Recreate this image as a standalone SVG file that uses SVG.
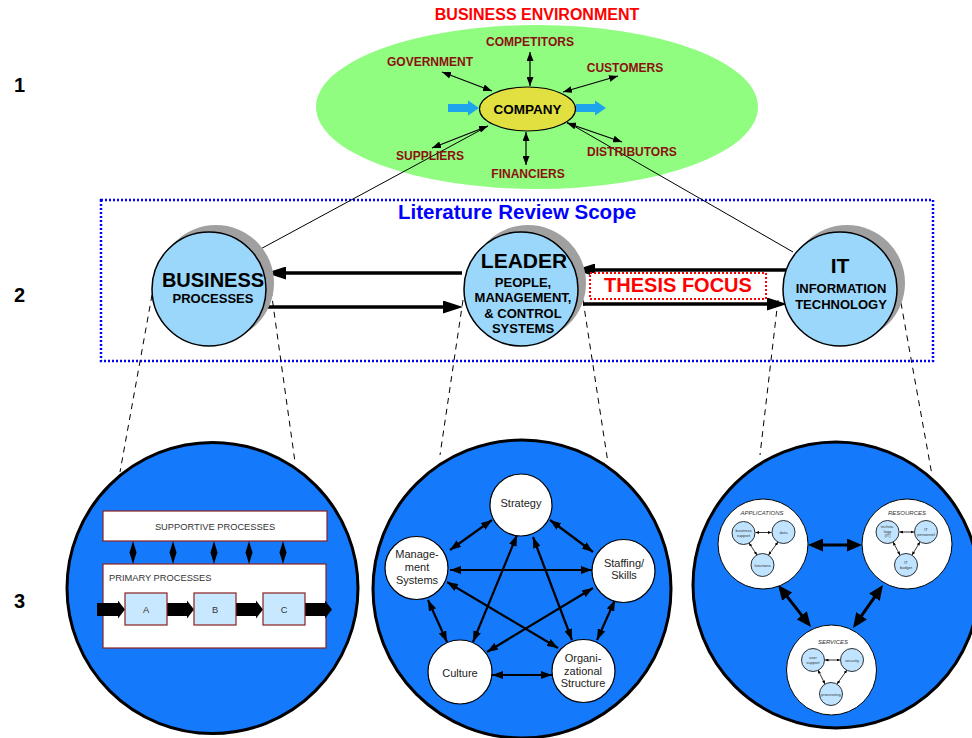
<svg xmlns="http://www.w3.org/2000/svg" width="972" height="738" viewBox="0 0 972 738">
<style>
text{font-family:"Liberation Sans",Arial,Helvetica,sans-serif}
.num{font-size:20px;font-weight:bold;fill:#000}
.env{font-size:12px;font-weight:bold;fill:#8B1010;text-anchor:middle}
.thin{stroke:#000;stroke-width:1.2;fill:none;marker-start:url(#sm);marker-end:url(#sm)}
.thick{stroke:#000;stroke-width:3.5;fill:none;marker-end:url(#bh)}
.penta{stroke:#000;stroke-width:2.2;fill:none;marker-start:url(#pm);marker-end:url(#pm)}
.it{stroke:#000;stroke-width:3;fill:none;marker-start:url(#mh);marker-end:url(#mh)}
.tiny{stroke:#000;stroke-width:0.8;fill:none;marker-start:url(#tm);marker-end:url(#tm)}
.dash{stroke:#000;stroke-width:1;stroke-dasharray:6 5;fill:none}
.c2{fill:#9BD7FB;stroke:#000;stroke-width:1.5}
.sh{fill:#A0A0A0}
.big{fill:#1479FA;stroke:#000;stroke-width:3}
.pn{fill:#fff;stroke:#000;stroke-width:1.2}
.pt{font-size:11px;fill:#222;text-anchor:middle}
.bx{fill:#fff;stroke:#8B2020;stroke-width:1.2}
.abc{fill:#C8E8FF;stroke:#8B2020;stroke-width:1.2}
.bt{font-size:9.3px;fill:#333}
.blk{fill:#000}
.sub{fill:#fff;stroke:#000;stroke-width:1}
.sc{fill:#C0E4FF;stroke:#000;stroke-width:0.8}
.sl{font-size:6px;font-style:italic;fill:#333;text-anchor:middle}
.st{font-size:4px;fill:#333;text-anchor:middle}
</style>
<defs>
<marker id="sm" markerUnits="userSpaceOnUse" markerWidth="9" markerHeight="7" refX="9" refY="3.5" orient="auto-start-reverse"><path d="M0,0 L9,3.5 L0,7 z" fill="#000"/></marker>
<marker id="bh" markerUnits="userSpaceOnUse" markerWidth="20" markerHeight="13" refX="14" refY="6.5" orient="auto"><path d="M0,0 L20,6.5 L0,13 z" fill="#000"/></marker>
<marker id="pm" markerUnits="userSpaceOnUse" markerWidth="11" markerHeight="8" refX="11" refY="4" orient="auto-start-reverse"><path d="M0,0 L11,4 L0,8 z" fill="#000"/></marker>
<marker id="mh" markerUnits="userSpaceOnUse" markerWidth="15" markerHeight="13" refX="11" refY="6.5" orient="auto-start-reverse"><path d="M0,0 L15,6.5 L0,13 z" fill="#000"/></marker>
<marker id="tm" markerUnits="userSpaceOnUse" markerWidth="3.5" markerHeight="3" refX="3.5" refY="1.5" orient="auto-start-reverse"><path d="M0,0 L3.5,1.5 L0,3 z" fill="#000"/></marker>
</defs>

<g id="row-labels">
<text class="num" x="14" y="92">1</text>
<text class="num" x="14" y="302">2</text>
<text class="num" x="14" y="608">3</text>
</g>

<g id="business-environment">
<ellipse cx="537" cy="107" rx="221" ry="82" fill="#90FC80"/>
<text x="537" y="19.5" font-size="16" font-weight="bold" fill="#FF0000" text-anchor="middle">BUSINESS ENVIRONMENT</text>
</g>

<g id="scope">
<rect x="101" y="200" width="832" height="161" fill="none" stroke="#0000FF" stroke-width="2.5" stroke-dasharray="2 2"/>
<text x="517" y="219" font-size="20.5" font-weight="bold" fill="#0000FF" text-anchor="middle">Literature Review Scope</text>
</g>

<g id="connectors">
<line class="thin" x1="530" y1="52" x2="530" y2="86"/>
<line class="thin" x1="526" y1="165" x2="526" y2="132"/>
<line class="thin" x1="442" y1="72" x2="492" y2="91"/>
<line class="thin" x1="618" y1="76" x2="563" y2="92"/>
<line class="thin" x1="432" y1="148" x2="488" y2="126"/>
<line class="thin" x1="567" y1="123" x2="622" y2="142"/>
<polygon points="448,104 468,104 468,100.5 479,108 468,115.5 468,112 448,112" fill="#1EA4EA"/>
<polygon points="576,104 595,104 595,100.5 606,108 595,115.5 595,112 576,112" fill="#1EA4EA"/>
<line x1="488" y1="126" x2="255" y2="252" stroke="#000" stroke-width="1"/>
<line x1="567" y1="122" x2="793" y2="252" stroke="#000" stroke-width="1"/>
<line class="thick" x1="462" y1="273" x2="272" y2="273"/>
<line class="thick" x1="263" y1="307" x2="457" y2="307"/>
<line class="thick" x1="787" y1="270" x2="581" y2="270"/>
<line class="thick" x1="583" y1="304" x2="781" y2="304"/>
<line class="dash" x1="152" y1="295" x2="120" y2="472"/>
<line class="dash" x1="271" y1="290" x2="295" y2="462"/>
<line class="dash" x1="463" y1="300" x2="440" y2="455"/>
<line class="dash" x1="583" y1="300" x2="608" y2="463"/>
<line class="dash" x1="778" y1="300" x2="760" y2="455"/>
<line class="dash" x1="899" y1="292" x2="932" y2="475"/>
</g>

<g id="company">
<ellipse cx="527.5" cy="109" rx="48" ry="22" fill="#E2E040" stroke="#000" stroke-width="1.2"/>
<text x="527.5" y="114" font-size="13.5" font-weight="bold" fill="#000" text-anchor="middle">COMPANY</text>
</g>
<g id="competitors"><text class="env" x="530" y="46">COMPETITORS</text></g>
<g id="government"><text class="env" x="430" y="66">GOVERNMENT</text></g>
<g id="customers"><text class="env" x="625" y="72">CUSTOMERS</text></g>
<g id="suppliers"><text class="env" x="430" y="160">SUPPLIERS</text></g>
<g id="financiers"><text class="env" x="528" y="178">FINANCIERS</text></g>
<g id="distributors"><text class="env" x="632" y="156">DISTRIBUTORS</text></g>

<g id="business-processes">
<circle class="sh" cx="216" cy="283" r="58"/>
<circle class="c2" cx="209" cy="289" r="57"/>
<text x="213" y="287" font-size="20" font-weight="bold" text-anchor="middle">BUSINESS</text>
<text x="213" y="303" font-size="13" font-weight="bold" text-anchor="middle">PROCESSES</text>
</g>

<g id="leader">
<circle class="sh" cx="528" cy="283" r="58"/>
<circle class="c2" cx="521" cy="289" r="57"/>
<text x="524" y="268" font-size="21" font-weight="bold" text-anchor="middle">LEADER</text>
<text x="523" y="287" font-size="13" font-weight="bold" text-anchor="middle">PEOPLE,</text>
<text x="523" y="302" font-size="13" font-weight="bold" text-anchor="middle">MANAGEMENT,</text>
<text x="523" y="318" font-size="13" font-weight="bold" text-anchor="middle">&amp; CONTROL</text>
<text x="523" y="333" font-size="13" font-weight="bold" text-anchor="middle">SYSTEMS</text>
</g>

<g id="thesis-focus">
<rect x="590" y="273" width="176" height="26" fill="#fff" stroke="#FF0000" stroke-width="2" stroke-dasharray="2 2"/>
<text x="678" y="292" font-size="20" font-weight="bold" fill="#FF0000" text-anchor="middle">THESIS FOCUS</text>
</g>

<g id="information-technology">
<circle class="sh" cx="847" cy="283" r="58"/>
<circle class="c2" cx="840" cy="289" r="57"/>
<text x="840" y="273" font-size="21" font-weight="bold" text-anchor="middle">IT</text>
<text x="841" y="293" font-size="13" font-weight="bold" text-anchor="middle">INFORMATION</text>
<text x="841" y="309" font-size="13" font-weight="bold" text-anchor="middle">TECHNOLOGY</text>
</g>

<g id="process-detail">
<circle class="big" cx="212.5" cy="588" r="145.5"/>
<rect class="bx" x="103" y="511" width="224" height="30"/>
<text class="bt" x="215" y="530" text-anchor="middle">SUPPORTIVE PROCESSES</text>
<rect class="bx" x="103" y="564" width="223" height="84"/>
<text class="bt" x="109" y="581">PRIMARY PROCESSES</text>
<g class="blk">
<polygon points="133,541 136.5,552.5 133,564 129.5,552.5"/>
<polygon points="173,541 176.5,552.5 173,564 169.5,552.5"/>
<polygon points="214,541 217.5,552.5 214,564 210.5,552.5"/>
<polygon points="249,541 252.5,552.5 249,564 245.5,552.5"/>
<polygon points="283,541 286.5,552.5 283,564 279.5,552.5"/>
<polygon points="97,603 118,603 118,600.5 125,609.5 118,618.5 118,616 97,616"/>
<polygon points="167,603 187,603 187,600.5 194,609.5 187,618.5 187,616 167,616"/>
<polygon points="236,603 256,603 256,600.5 263,609.5 256,618.5 256,616 236,616"/>
<polygon points="305,603 325,603 325,600.5 332,609.5 325,618.5 325,616 305,616"/>
</g>
<rect class="abc" x="125" y="593" width="42" height="32"/>
<rect class="abc" x="194" y="593" width="42" height="32"/>
<rect class="abc" x="263" y="593" width="42" height="32"/>
<text class="bt" x="146" y="613" text-anchor="middle">A</text>
<text class="bt" x="215" y="613" text-anchor="middle">B</text>
<text class="bt" x="284" y="613" text-anchor="middle">C</text>
</g>

<g id="leader-detail">
<circle class="big" cx="522" cy="589" r="149"/>
<g id="penta-arrows">
<line class="penta" x1="492" y1="520" x2="450" y2="550"/>
<line class="penta" x1="550" y1="520" x2="593" y2="552"/>
<line class="penta" x1="450" y1="570" x2="592" y2="570"/>
<line class="penta" x1="428" y1="600" x2="447" y2="642"/>
<line class="penta" x1="615" y1="600" x2="597" y2="640"/>
<line class="penta" x1="492" y1="675" x2="552" y2="675"/>
<line class="penta" x1="517" y1="535" x2="473" y2="642"/>
<line class="penta" x1="533" y1="537" x2="572" y2="640"/>
<line class="penta" x1="447" y1="582" x2="558" y2="648"/>
<line class="penta" x1="593" y1="588" x2="487" y2="652"/>
</g>
<g id="strategy"><circle class="pn" cx="521" cy="505" r="31"/><text class="pt" x="521" y="507">Strategy</text></g>
<g id="management-systems"><circle class="pn" cx="416.5" cy="568" r="31.5"/><text class="pt" x="417" y="558">Manage-</text><text class="pt" x="417" y="571">ment</text><text class="pt" x="417" y="584">Systems</text></g>
<g id="staffing-skills"><circle class="pn" cx="623.5" cy="571" r="31.5"/><text class="pt" x="624" y="567">Staffing/</text><text class="pt" x="624" y="579">Skills</text></g>
<g id="culture"><circle class="pn" cx="460" cy="672" r="32"/><text class="pt" x="460" y="677">Culture</text></g>
<g id="organizational-structure"><circle class="pn" cx="583.5" cy="671" r="31.5"/><text class="pt" x="583" y="662">Organi-</text><text class="pt" x="583" y="675">zational</text><text class="pt" x="583" y="687">Structure</text></g>
</g>

<g id="it-detail">
<circle class="big" cx="836" cy="585" r="143"/>
<line class="it" x1="812" y1="545" x2="858" y2="545"/>
<line class="it" x1="780.5" y1="588.1" x2="808.5" y2="623.9"/>
<line class="it" x1="880.7" y1="588.3" x2="855.3" y2="624.7"/>
<g id="applications">
<circle class="sub" cx="763" cy="544" r="45"/>
<text class="sl" x="762" y="515">APPLICATIONS</text>
<line class="tiny" x1="755.5" y1="532.5" x2="771.5" y2="532.5"/>
<line class="tiny" x1="749" y1="543" x2="757" y2="555"/>
<line class="tiny" x1="778" y1="542" x2="768.5" y2="555"/>
<circle class="sc" cx="743.5" cy="533" r="11.5"/>
<circle class="sc" cx="783.5" cy="532" r="11.5"/>
<circle class="sc" cx="762.5" cy="565" r="11.5"/>
<text class="st" x="743.5" y="532">business</text><text class="st" x="743.5" y="537">support</text>
<text class="st" x="783.5" y="533.5">data</text>
<text class="st" x="762.5" y="566.5">functions</text>
</g>
<g id="resources">
<circle class="sub" cx="907" cy="544" r="45"/>
<text class="sl" x="907" y="515">RESOURCES</text>
<line class="tiny" x1="899.5" y1="532" x2="914" y2="532"/>
<line class="tiny" x1="893" y1="542" x2="900" y2="555"/>
<line class="tiny" x1="920" y1="542" x2="912" y2="555"/>
<circle class="sc" cx="887.5" cy="532" r="11.5"/>
<circle class="sc" cx="926" cy="532" r="11.5"/>
<circle class="sc" cx="906" cy="565" r="11.5"/>
<text class="st" x="887.5" y="528">techno-</text><text class="st" x="887.5" y="532.5">logy</text><text class="st" x="887.5" y="537">(IT)</text>
<text class="st" x="926" y="530.5">IT</text><text class="st" x="926" y="535.5">personnel</text>
<text class="st" x="906" y="563.5">IT</text><text class="st" x="906" y="568.5">budget</text>
</g>
<g id="services">
<circle class="sub" cx="831.5" cy="670" r="45"/>
<text class="sl" x="833" y="644">SERVICES</text>
<line class="tiny" x1="825" y1="660" x2="840" y2="660"/>
<line class="tiny" x1="818" y1="670" x2="825" y2="684"/>
<line class="tiny" x1="847" y1="670" x2="837" y2="684"/>
<circle class="sc" cx="813" cy="660" r="11.5"/>
<circle class="sc" cx="852" cy="660" r="11.5"/>
<circle class="sc" cx="831" cy="694" r="11.5"/>
<text class="st" x="813" y="658.5">user</text><text class="st" x="813" y="663.5">support</text>
<text class="st" x="852" y="661.5">security</text>
<text class="st" x="831" y="695.5">processing</text>
</g>
</g>
</svg>
